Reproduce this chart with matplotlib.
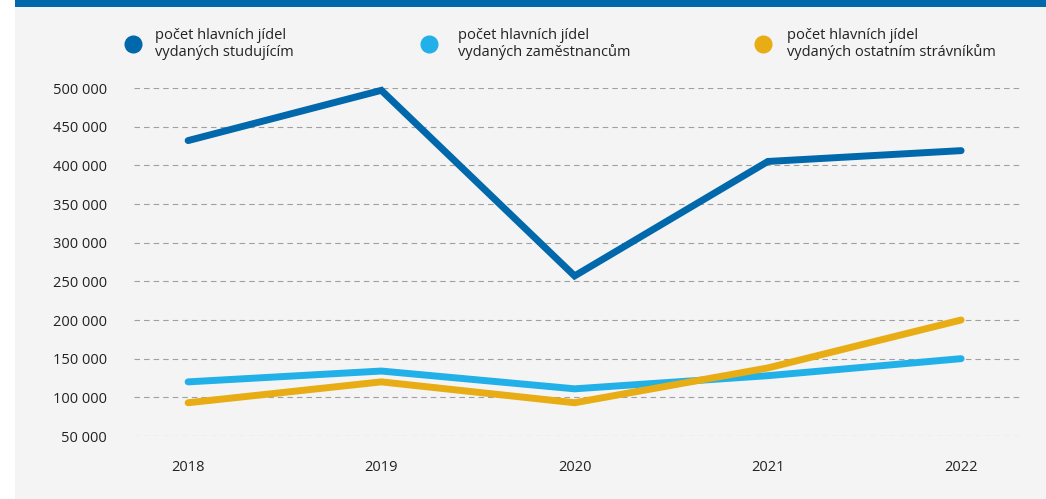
import matplotlib
matplotlib.use("Agg")
import matplotlib.pyplot as plt
from matplotlib.lines import Line2D
from matplotlib.patches import Rectangle
from matplotlib.ticker import FuncFormatter

years = [2018, 2019, 2020, 2021, 2022]
studujici = [432000, 497000, 257000, 405000, 419000]
zamestnanci = [120000, 134000, 111000, 128000, 150000]
ostatni = [93000, 120000, 93000, 138000, 200000]

labels = ["počet hlavních jídel\nvydaných studujícím",
          "počet hlavních jídel\nvydaných zaměstnancům",
          "počet hlavních jídel\nvydaných ostatním strávníkům"]
colors = ["#0068ab", "#22b0e8", "#e8ac14"]
yticks = [50000, 100000, 150000, 200000, 250000, 300000, 350000, 400000, 450000, 500000]

plt.rcParams['font.family'] = ['Open Sans', 'DejaVu Sans']

W, H = 1046, 499
fig = plt.figure(figsize=(W / 100, H / 100), dpi=100)
fig.patch.set_facecolor("white")
# gray panel
fig.add_artist(Rectangle((15 / W, 0), 1 - 15 / W, 1, transform=fig.transFigure,
                         facecolor="#f4f4f4", edgecolor="none", zorder=-10))
# blue top bar
fig.add_artist(Rectangle((15 / W, 1 - 7 / H), 1 - 15 / W, 7 / H, transform=fig.transFigure,
                         facecolor="#0068ab", edgecolor="none", zorder=-9))

left, right, top, bottom = 134, 1021, 88, 436
ax = fig.add_axes([left / W, 1 - bottom / H, (right - left) / W, (bottom - top) / H])
ax.set_facecolor("none")

for vals, c in zip([studujici, zamestnanci, ostatni], colors):
    ax.plot(years, vals, color=c, lw=5, solid_capstyle="round", solid_joinstyle="miter",
            clip_on=False, zorder=3)

ax.set_xlim(2017.72, 2022.31)
ax.set_ylim(50000, 500000)
ax.set_yticks(yticks)
ax.set_xticks(years)
ax.yaxis.set_major_formatter(FuncFormatter(lambda v, p: f"{int(v):,}".replace(",", " ")))
ax.grid(axis="y", color="#a0a0a0", lw=0.8, linestyle=(0, (5, 3.6)))
ax.set_axisbelow(True)
for s in ax.spines.values():
    s.set_visible(False)
ax.tick_params(axis="y", length=0, pad=19.5, labelsize=10.5, labelcolor="#222222")
ax.tick_params(axis="x", length=0, pad=17, labelsize=10.5, labelcolor="#222222")

# legend
mx = [133, 429, 763]
tx = [155, 458, 787]
for m, t, lab, c in zip(mx, tx, labels, colors):
    fig.add_artist(Line2D([m / W], [1 - 44 / H], transform=fig.transFigure, marker="o",
                          markersize=12, color=c, linestyle="none"))
    fig.text(t / W, 1 - 44 / H, lab, ha="left", va="center", fontsize=10.5,
             color="#222222", linespacing=1.15)

fig.savefig("out.png", dpi=100)
